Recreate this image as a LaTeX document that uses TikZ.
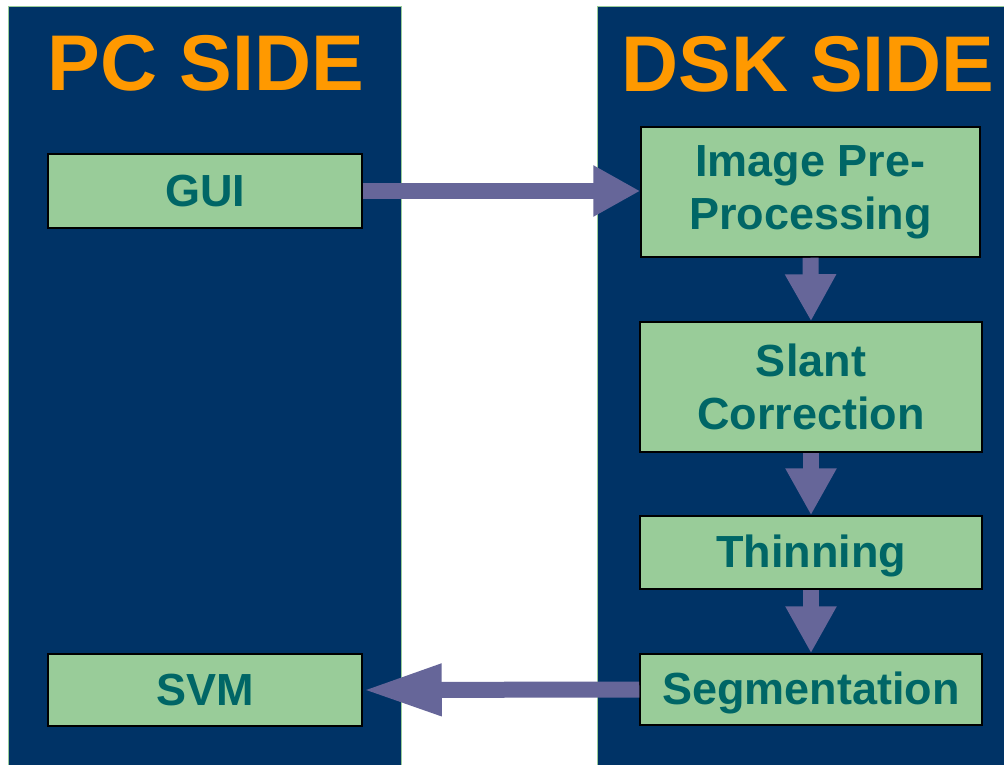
\documentclass[tikz,border=0pt]{standalone}
\usepackage{fontspec}
\setmainfont{Liberation Sans}
\usetikzlibrary{arrows.meta}
\definecolor{panelblue}{RGB}{0,51,102}
\definecolor{panelline}{RGB}{153,204,153}
\definecolor{boxgreen}{RGB}{153,204,153}
\definecolor{textteal}{RGB}{0,102,102}
\definecolor{titleorange}{RGB}{255,153,0}
\definecolor{arrowpurple}{RGB}{102,102,153}
\tikzset{
  panel/.style={fill=panelblue, draw=panelline, line width=1.5pt},
  procbox/.style={fill=boxgreen, draw=black, line width=1.5pt, inner sep=0pt,
    text=textteal, align=center, font=\fontsize{45}{53}\selectfont\bfseries},
  oneline/.style={text height=36pt, text depth=6pt},
  paneltitle/.style={text=titleorange, inner sep=0pt, anchor=base,
    font=\fontsize{79}{88}\selectfont\bfseries},
  flow/.style={draw=arrowpurple, line width=16pt,
    -{Triangle[length=47pt,width=48pt,fill=arrowpurple]}},
  flowlong/.style={draw=arrowpurple, line width=16pt,
    -{Triangle[length=79pt,width=48pt,fill=arrowpurple]}}
}
\begin{document}
\begin{tikzpicture}[x=1pt,y=-1pt]
\useasboundingbox (0,0) rectangle (1004,765);
\clip (0,0) rectangle (1004,765);
\fill[white] (0,0) rectangle (1004,765);
% panels
\draw[panel] (8.5,6.5) rectangle (401.5,780);
\draw[panel] (597.5,6.5) rectangle (1020,780);
% titles
\node[paneltitle] (pctitle) at (206,91) {PC SIDE};
\node[paneltitle] (dsktitle) at (808,92) {DSK SIDE};
% boxes
\node[procbox, oneline, minimum width=314pt, minimum height=74pt] (gui) at (205,191) {GUI};
\node[procbox, minimum width=339pt, minimum height=130pt] (ipp) at (810.5,192) {Image Pre-\\Processing};
\node[procbox, minimum width=342pt, minimum height=130pt] (slant) at (811,387) {Slant\\Correction};
\node[procbox, oneline, minimum width=342pt, minimum height=73pt] (thin) at (811,552.5) {Thinning};
\node[procbox, oneline, minimum width=342pt, minimum height=71pt] (seg) at (811,689.5) {Segmentation};
\node[procbox, oneline, minimum width=314pt, minimum height=72pt] (svm) at (205,690) {SVM};
% arrows
\draw[flow] (gui.east) -- (ipp.west |- gui.east);
\draw[flow] (ipp.south) -- (slant.north);
\draw[flow] (slant.south) -- (thin.north);
\draw[flow] (thin.south) -- (seg.north);
\draw[flowlong] (seg.west) -- (svm.east);
\end{tikzpicture}
\end{document}
